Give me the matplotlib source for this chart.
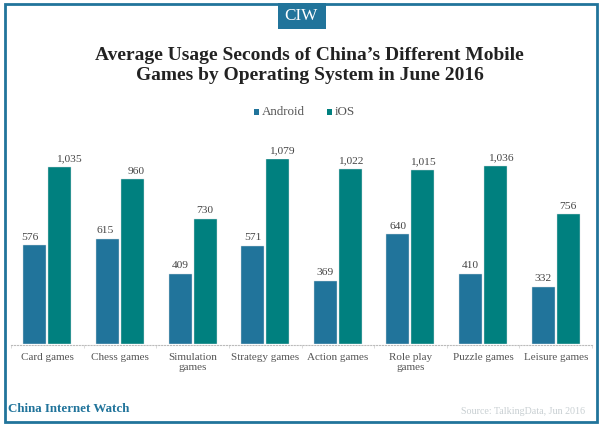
import matplotlib
matplotlib.use('Agg')
import matplotlib.pyplot as plt
from matplotlib.patches import Rectangle

categories = ['Card games', 'Chess games', 'Simulation\ngames', 'Strategy games',
              'Action games', 'Role play\ngames', 'Puzzle games', 'Leisure games']
android = [576, 615, 409, 571, 369, 640, 410, 332]
ios = [1035, 960, 730, 1079, 1022, 1015, 1036, 756]
ios_labels = ['1,035', '960', '730', '1,079', '1,022', '1,015', '1,036', '756']

# the value labels sit a little off centre in the original (pixels)
android_nudge = [-5, -2.5, 0, 0, 0, 0, 0, 0]
ios_nudge = [9, 4, 0, 4, 0, 0, 5, 0]

BLUE = '#21749b'
TEAL = '#00807f'
EDGE = '#d5dcdf'
W, H = 600, 424

plt.rcParams['font.family'] = ['Liberation Serif', 'DejaVu Serif']

fig = plt.figure(figsize=(W / 100, H / 100), dpi=100)

# frame around the whole picture, in pixel-like coordinates
bg = fig.add_axes([0, 0, 1, 1])
bg.set_xlim(0, W)
bg.set_ylim(H, 0)
bg.axis('off')
bg.add_patch(Rectangle((5, 4), 592, 418, fill=False, ec=BLUE, lw=2))
bg.add_patch(Rectangle((278, 3), 48, 26, fc=BLUE, ec='none'))
bg.text(301, 16.5, 'CIW', color='white', fontsize=12.3, ha='center', va='center')
bg.text(309.5, 56, 'Average Usage Seconds of China\u2019s Different Mobile',
        fontsize=14, fontweight='bold', color='#222222', ha='center', va='center')
bg.text(309.5, 75, 'Games by Operating System in June 2016',
        fontsize=14, fontweight='bold', color='#222222', ha='center', va='center')
bg.add_patch(Rectangle((254, 109), 5, 6, fc=BLUE, ec='none'))
bg.text(262, 112, 'Android', color='#555555', fontsize=9.4, va='center')
bg.add_patch(Rectangle((327, 109), 5, 6, fc=TEAL, ec='none'))
bg.text(335, 112, 'iOS', color='#555555', fontsize=9.4, va='center')
bg.text(8, 409, 'China Internet Watch', color=BLUE, fontsize=9.4, fontweight='bold', va='center')
bg.text(585, 411, 'Source: TalkingData, Jun 2016', color='#c8cfd2', fontsize=7.2,
        ha='right', va='center')

ax = fig.add_axes([11 / W, 1 - 344 / H, 581 / W, 185 / H])
ax.patch.set_alpha(0)
x = list(range(len(categories)))
offset = 0.172
width = 0.317
ax.bar([i - offset for i in x], android, width, color=BLUE, edgecolor=EDGE, linewidth=0.3)
ax.bar([i + offset for i in x], ios, width, color=TEAL, edgecolor=EDGE, linewidth=0.3)

for i in x:
    ax.annotate(str(android[i]), (i - offset, android[i]), xytext=(android_nudge[i] * 0.72, 2.6),
                textcoords='offset points', ha='center', va='bottom', fontsize=8.2, color='#444444')
    ax.annotate(ios_labels[i], (i + offset, ios[i]), xytext=(ios_nudge[i] * 0.72, 2.6),
                textcoords='offset points', ha='center', va='bottom', fontsize=8.2, color='#444444')

ax.set_xlim(-0.5, 7.5)
ax.set_ylim(0, 1079)
ax.set_yticks([])
ax.set_xticks(x)
ax.set_xticklabels(categories, linespacing=1.15)
ax.set_xticks([i - 0.5 for i in range(len(categories) + 1)], minor=True)
ax.tick_params(axis='x', which='major', length=0, pad=5.5, labelsize=8.0, labelcolor='#555555')
ax.tick_params(axis='x', which='minor', length=2, width=0.5, color='#cccccc')
for s in ['top', 'left', 'right']:
    ax.spines[s].set_visible(False)
ax.spines['bottom'].set_color('#bbbbbb')
ax.spines['bottom'].set_linestyle(':')
ax.spines['bottom'].set_position(('outward', 1))

fig.savefig('out.png', dpi=100)
